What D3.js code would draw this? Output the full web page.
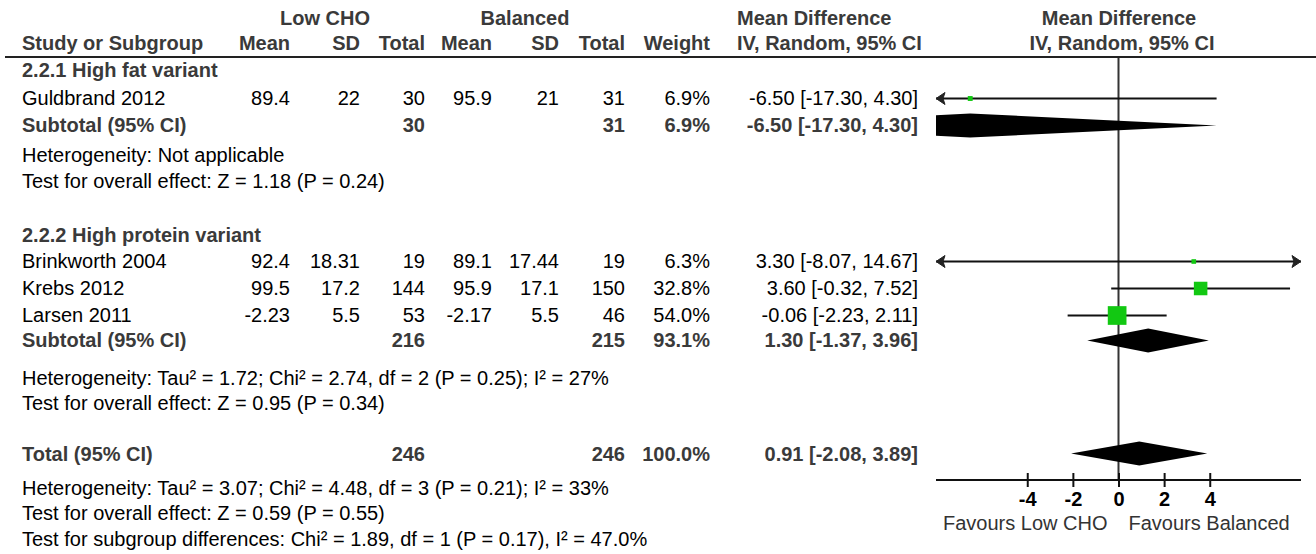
<!DOCTYPE html>
<html>
<head>
<meta charset="utf-8">
<script src="https://cdn.jsdelivr.net/npm/d3@7"></script>
<style>
html,body{margin:0;padding:0;background:#fff;}
svg{display:block;}
text{font-family:"Liberation Sans",Arial,Helvetica,sans-serif;font-size:20px;}
</style>
</head>
<body>
<svg id="chart" width="1316" height="554"></svg>
<script>
// ---------- DATA ----------
const studies   = ["Guldbrand 2012", "Brinkworth 2004", "Krebs 2012", "Larsen 2011"];
const studyGroup = [0, 1, 1, 1];
const lowMean   = [89.4, 92.4, 99.5, -2.23];
const lowSD     = [22, 18.31, 17.2, 5.5];
const lowTotal  = [30, 19, 144, 53];
const balMean   = [95.9, 89.1, 95.9, -2.17];
const balSD     = [21, 17.44, 17.1, 5.5];
const balTotal  = [31, 19, 150, 46];
const weights   = [6.9, 6.3, 32.8, 54.0];
const md        = [-6.50, 3.30, 3.60, -0.06];
const ciLow     = [-17.30, -8.07, -0.32, -2.23];
const ciHigh    = [4.30, 14.67, 7.52, 2.11];

const subgroups     = ["2.2.1 High fat variant", "2.2.2 High protein variant"];
const subLowTotal   = [30, 216];
const subBalTotal   = [31, 215];
const subWeight     = [6.9, 93.1];
const subMd         = [-6.50, 1.30];
const subLow        = [-17.30, -1.37];
const subHigh       = [4.30, 3.96];
const subHetero     = ["Heterogeneity: Not applicable",
                       "Heterogeneity: Tau² = 1.72; Chi² = 2.74, df = 2 (P = 0.25); I² = 27%"];
const subOverall    = ["Test for overall effect: Z = 1.18 (P = 0.24)",
                       "Test for overall effect: Z = 0.95 (P = 0.34)"];

const totalLowN = 246, totalBalN = 246, totalWeight = 100.0;
const totalMd = 0.91, totalLow = -2.08, totalHigh = 3.89;
const totalNotes = ["Heterogeneity: Tau² = 3.07; Chi² = 4.48, df = 3 (P = 0.21); I² = 33%",
                    "Test for overall effect: Z = 0.59 (P = 0.55)",
                    "Test for subgroup differences: Chi² = 1.89, df = 1 (P = 0.17), I² = 47.0%"];

const xDomain   = [-8, 8];
const tickVals  = [-4, -2, 0, 2, 4];
const favLeft   = "Favours Low CHO";
const favRight  = "Favours Balanced";

// ---------- LAYOUT ----------
const svg = d3.select("#chart");
const x = d3.scaleLinear().domain(xDomain).range([936, 1301]);
const sq = d3.scalePow().exponent(0.65).domain([0, 54]).range([0, 18.7]);
const loc = d3.formatLocale({decimal: ".", thousands: ",", grouping: [3], currency: ["", ""], minus: "-"});
const fmt2 = loc.format(".2f"), fmtW = loc.format(".1f"), fmtT = loc.format("d");
const ciText = (m, l, h) => `${fmt2(m)} [${fmt2(l)}, ${fmt2(h)}]`;

const BOLD = "#3a3a3a", INK = "#000", GREEN = "#12c812";
const col = {name: 22, lMean: 290, lSD: 360, lTot: 425, bMean: 492, bSD: 559, bTot: 625, w: 710, ci: 918};

function txt(s, xx, yy, anchor, bold) {
  svg.append("text").attr("x", xx).attr("y", yy)
    .attr("text-anchor", anchor || "start")
    .attr("font-weight", bold ? "bold" : "normal")
    .attr("fill", bold ? BOLD : INK)
    .text(s);
}

// header
txt("Low CHO", 325, 25, "middle", true);
txt("Balanced", 525, 25, "middle", true);
txt("Mean Difference", 737, 25, "start", true);
txt("Mean Difference", 1119, 25, "middle", true);
txt("Study or Subgroup", col.name, 50, "start", true);
[["Mean", col.lMean], ["SD", col.lSD], ["Total", col.lTot], ["Mean", col.bMean],
 ["SD", col.bSD], ["Total", col.bTot], ["Weight", col.w]].forEach(d => txt(d[0], d[1], 50, "end", true));
txt("IV, Random, 95% CI", 737, 50, "start", true);
txt("IV, Random, 95% CI", 1122, 50, "middle", true);
svg.append("line").attr("x1", 5).attr("x2", 1316).attr("y1", 57).attr("y2", 57)
  .attr("stroke", "#222").attr("stroke-width", 2);

// vertical positions (text baselines)
const groupHeadY = [77, 242];
const studyY = [105, 268, 295, 322];
const subY = [132, 347];
const subHetY = [162, 385];
const subOvY = [188, 410];
const totalY = 461;
const totalNoteY = [495, 520, 546];
const axisY = 480;
const off = 6.5;

// zero line
svg.append("line").attr("x1", x(0)).attr("x2", x(0)).attr("y1", 58).attr("y2", axisY)
  .attr("stroke", "#333").attr("stroke-width", 2);

// clip
svg.append("clipPath").attr("id", "plotclip").append("rect")
  .attr("x", x(xDomain[0])).attr("y", 0).attr("width", x(xDomain[1]) - x(xDomain[0])).attr("height", 554);
const plot = svg.append("g").attr("clip-path", "url(#plotclip)");
const arrows = svg.append("g");

function arrowHead(xx, yy, dir) {
  arrows.append("path")
    .attr("d", `M${xx},${yy} L${xx - dir * 9},${yy - 6} L${xx - dir * 7},${yy} L${xx - dir * 9},${yy + 6} Z`)
    .attr("fill", "#222").attr("stroke", "#222").attr("stroke-width", 1);
}

// subgroup headers + rows
subgroups.forEach((g, gi) => {
  txt(g, col.name, groupHeadY[gi], "start", true);
  txt(String(subLowTotal[gi]), col.lTot, subY[gi], "end", true);
  txt(String(subBalTotal[gi]), col.bTot, subY[gi], "end", true);
  txt(fmtW(subWeight[gi]) + "%", col.w, subY[gi], "end", true);
  txt("Subtotal (95% CI)", col.name, subY[gi], "start", true);
  txt(ciText(subMd[gi], subLow[gi], subHigh[gi]), col.ci, subY[gi], "end", true);
  txt(subHetero[gi], col.name, subHetY[gi], "start", false);
  txt(subOverall[gi], col.name, subOvY[gi], "start", false);
  const cy = subY[gi] - off;
  plot.append("path")
    .attr("d", `M${x(subLow[gi])},${cy} L${x(subMd[gi])},${cy - 12} L${x(subHigh[gi])},${cy} L${x(subMd[gi])},${cy + 12} Z`)
    .attr("fill", "#000");
});

studies.forEach((s, i) => {
  const yy = studyY[i];
  txt(s, col.name, yy);
  txt(String(lowMean[i]), col.lMean, yy, "end");
  txt(String(lowSD[i]), col.lSD, yy, "end");
  txt(String(lowTotal[i]), col.lTot, yy, "end");
  txt(String(balMean[i]), col.bMean, yy, "end");
  txt(String(balSD[i]), col.bSD, yy, "end");
  txt(String(balTotal[i]), col.bTot, yy, "end");
  txt(fmtW(weights[i]) + "%", col.w, yy, "end");
  txt(ciText(md[i], ciLow[i], ciHigh[i]), col.ci, yy, "end");
  const cy = yy - off;
  const x1 = Math.max(x(ciLow[i]), x(xDomain[0]));
  const x2 = Math.min(x(ciHigh[i]), x(xDomain[1]));
  plot.append("line").attr("x1", x1).attr("x2", x2).attr("y1", cy).attr("y2", cy)
    .attr("stroke", "#111").attr("stroke-width", 2);
  if (ciLow[i] < xDomain[0]) arrowHead(x(xDomain[0]), cy, -1);
  if (ciHigh[i] > xDomain[1]) arrowHead(x(xDomain[1]), cy, 1);
  const s2 = sq(weights[i]);
  plot.append("rect").attr("x", x(md[i]) - s2 / 2).attr("y", cy - s2 / 2)
    .attr("width", s2).attr("height", s2).attr("fill", GREEN);
});

// total
txt("Total (95% CI)", col.name, totalY, "start", true);
txt(String(totalLowN), col.lTot, totalY, "end", true);
txt(String(totalBalN), col.bTot, totalY, "end", true);
txt(fmtW(totalWeight) + "%", col.w, totalY, "end", true);
txt(ciText(totalMd, totalLow, totalHigh), col.ci, totalY, "end", true);
totalNotes.forEach((t, i) => txt(t, col.name, totalNoteY[i], "start", false));
{
  const cy = totalY - 7.5;
  plot.append("path")
    .attr("d", `M${x(totalLow)},${cy} L${x(totalMd)},${cy - 12} L${x(totalHigh)},${cy} L${x(totalMd)},${cy + 12} Z`)
    .attr("fill", "#000");
}

// axis
const axisG = svg.append("g").attr("transform", `translate(0,${axisY})`);
axisG.append("line").attr("x1", x(xDomain[0])).attr("x2", x(xDomain[1]))
  .attr("stroke", "#111").attr("stroke-width", 2);
const ax = d3.axisBottom(x).tickValues(tickVals).tickSizeOuter(0).tickSizeInner(7).tickPadding(12).tickFormat(fmtT);
const axG2 = svg.append("g").attr("transform", `translate(0,${axisY})`).call(ax);
axG2.select(".domain").remove();
axG2.selectAll(".tick line").attr("y1", -7).attr("y2", 7).attr("stroke", "#111").attr("stroke-width", 2);
axG2.selectAll(".tick text")
  .attr("font-family", '"Liberation Sans",Arial,sans-serif').attr("font-size", 20)
  .attr("font-weight", "bold").attr("fill", "#000").attr("dy", null).attr("y", 26);
svg.append("text").attr("x", x(0) - 11).attr("y", 530).attr("text-anchor", "end").attr("fill", "#333").text(favLeft);
svg.append("text").attr("x", x(0) + 10).attr("y", 530).attr("text-anchor", "start").attr("fill", "#333").text(favRight);
</script>
</body>
</html>
